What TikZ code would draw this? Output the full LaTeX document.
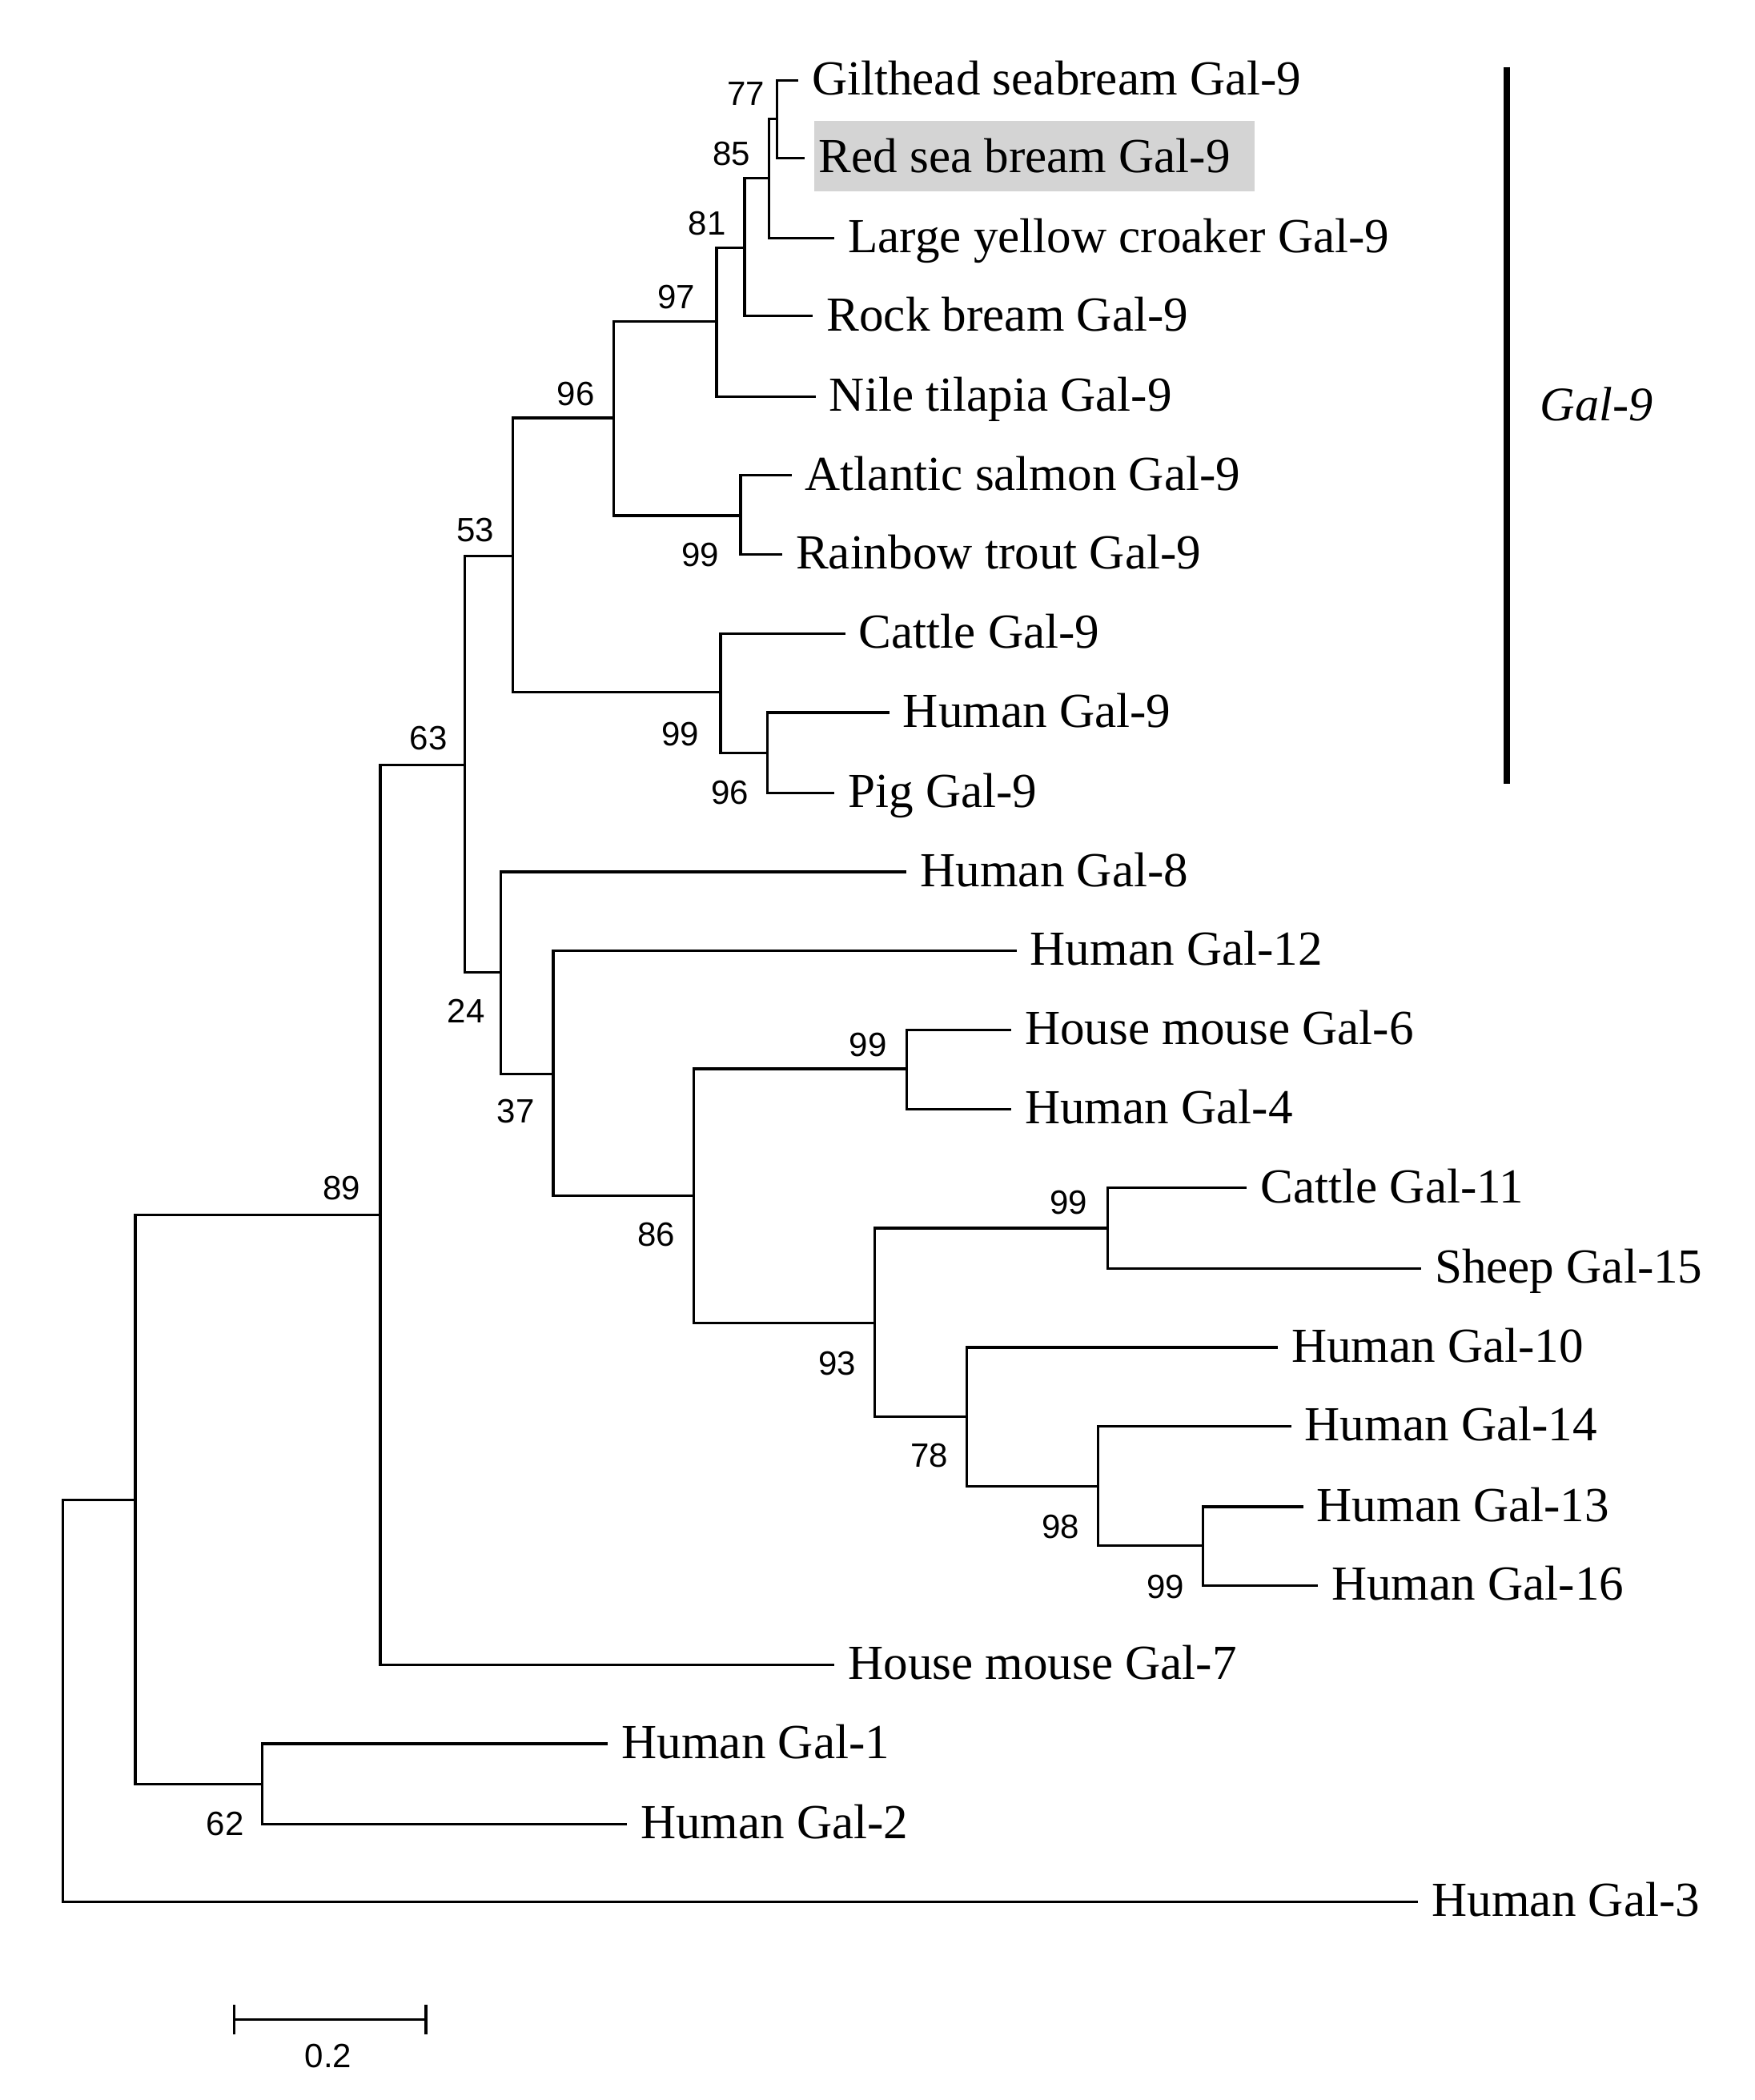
\documentclass[tikz,border=0pt]{standalone}
\usepackage{fontspec}
\setmainfont{Liberation Serif}
\newfontfamily\bsfont{Liberation Sans}
\begin{document}
\begin{tikzpicture}[x=0.02cm,y=-0.02cm,
  branch/.style={line width=1.1pt,line cap=rect},
  leaf/.style={anchor=west,inner xsep=6.2pt,inner ysep=0pt,text height=14pt,text depth=1.6pt,font=\fontsize{20.8}{24}\selectfont},
  boot/.style={inner sep=0pt,font=\bsfont\fontsize{14.3}{16}\selectfont},
  cladebar/.style={line width=3pt},
  hl/.style={fill=black!17,draw=none}]
\useasboundingbox (0,0) rectangle (1310,1568);
% highlight box
\fill[hl] (608,90) rectangle (937,143);
% leaves
\node[leaf] (l1) at (595,60) {Gilthead seabream Gal-9};
\node[leaf] (l2) at (600,118) {Red sea bream Gal-9};
\node[leaf] (l3) at (622,178) {Large yellow croaker Gal-9};
\node[leaf] (l4) at (606,236) {Rock bream Gal-9};
\node[leaf] (l5) at (608,296) {Nile tilapia Gal-9};
\node[leaf] (l6) at (590,355) {Atlantic salmon Gal-9};
\node[leaf] (l7) at (583,414) {Rainbow trout Gal-9};
\node[leaf] (l8) at (630,473) {Cattle Gal-9};
\node[leaf] (l9) at (663,532) {Human Gal-9};
\node[leaf] (l10) at (622,592) {Pig Gal-9};
\node[leaf] (l11) at (676,651) {Human Gal-8};
\node[leaf] (l12) at (758,710) {Human Gal-12};
\node[leaf] (l13) at (754,769) {House mouse Gal-6};
\node[leaf] (l14) at (754,828) {Human Gal-4};
\node[leaf] (l15) at (930,887) {Cattle Gal-11};
\node[leaf] (l16) at (1060,947) {Sheep Gal-15};
\node[leaf] (l17) at (953,1006) {Human Gal-10};
\node[leaf] (l18) at (963,1065) {Human Gal-14};
\node[leaf] (l19) at (972,1125) {Human Gal-13};
\node[leaf] (l20) at (983,1184) {Human Gal-16};
\node[leaf] (l21) at (622,1243) {House mouse Gal-7};
\node[leaf] (l22) at (453,1302) {Human Gal-1};
\node[leaf] (l23) at (467,1362) {Human Gal-2};
\node[leaf] (l24) at (1058,1420) {Human Gal-3};
% internal nodes
\coordinate (n77) at (580,89);
\coordinate (n85) at (574,133);
\coordinate (n81) at (556,185);
\coordinate (n97) at (535,240);
\coordinate (n99a) at (553,385);
\coordinate (n96a) at (458,312);
\coordinate (n96b) at (573,562);
\coordinate (n99b) at (538,517);
\coordinate (n53) at (383,415);
\coordinate (n99c) at (677,798);
\coordinate (n99d) at (827,917);
\coordinate (n99e) at (898,1154);
\coordinate (n98) at (820,1110);
\coordinate (n78) at (722,1058);
\coordinate (n93) at (653,988);
\coordinate (n86) at (518,893);
\coordinate (n37) at (413,802);
\coordinate (n24) at (374,726);
\coordinate (n63) at (347,571);
\coordinate (n89) at (284,907);
\coordinate (n62) at (196,1332);
\coordinate (n0) at (101,1120);
\coordinate (root) at (47,1270);
% branches
\draw[branch] (n77) |- (l1.west) (n77) |- (l2.west);
\draw[branch] (n85) |- (n77) (n85) |- (l3.west);
\draw[branch] (n81) |- (n85) (n81) |- (l4.west);
\draw[branch] (n97) |- (n81) (n97) |- (l5.west);
\draw[branch] (n99a) |- (l6.west) (n99a) |- (l7.west);
\draw[branch] (n96a) |- (n97) (n96a) |- (n99a);
\draw[branch] (n96b) |- (l9.west) (n96b) |- (l10.west);
\draw[branch] (n99b) |- (l8.west) (n99b) |- (n96b);
\draw[branch] (n53) |- (n96a) (n53) |- (n99b);
\draw[branch] (n99c) |- (l13.west) (n99c) |- (l14.west);
\draw[branch] (n99d) |- (l15.west) (n99d) |- (l16.west);
\draw[branch] (n99e) |- (l19.west) (n99e) |- (l20.west);
\draw[branch] (n98) |- (l18.west) (n98) |- (n99e);
\draw[branch] (n78) |- (l17.west) (n78) |- (n98);
\draw[branch] (n93) |- (n99d) (n93) |- (n78);
\draw[branch] (n86) |- (n99c) (n86) |- (n93);
\draw[branch] (n37) |- (l12.west) (n37) |- (n86);
\draw[branch] (n24) |- (l11.west) (n24) |- (n37);
\draw[branch] (n63) |- (n53) (n63) |- (n24);
\draw[branch] (n89) |- (n63) (n89) |- (l21.west);
\draw[branch] (n62) |- (l22.west) (n62) |- (l23.west);
\draw[branch] (n0) |- (n89) (n0) |- (n62);
\draw[branch] (root) |- (n0) (root) |- (l24.west);
% bootstrap values
\node[boot] (b77) at (557,70) {77};
\node[boot] (b85) at (546,115) {85};
\node[boot] (b81) at (528,167) {81};
\node[boot] (b97) at (505,222) {97};
\node[boot] (b96a) at (430,294) {96};
\node[boot] (b99a) at (523,414) {99};
\node[boot] (b53) at (355,396) {53};
\node[boot] (b99b) at (508,548) {99};
\node[boot] (b96b) at (545,592) {96};
\node[boot] (b63) at (320,551) {63};
\node[boot] (b24) at (348,755) {24};
\node[boot] (b37) at (385,830) {37};
\node[boot] (b99c) at (648,780) {99};
\node[boot] (b86) at (490,922) {86};
\node[boot] (b99d) at (798,898) {99};
\node[boot] (b93) at (625,1018) {93};
\node[boot] (b78) at (694,1087) {78};
\node[boot] (b98) at (792,1140) {98};
\node[boot] (b99e) at (870,1185) {99};
\node[boot] (b89) at (255,887) {89};
\node[boot] (b62) at (168,1362) {62};
% clade bar
\coordinate (cbt) at (1125,50);
\coordinate (cbb) at (1125,585);
\draw[cladebar] (cbt) -- (cbb);
\node[font=\itshape\fontsize{20.5}{24}\selectfont,inner sep=0pt] (clade) at (1192,302) {Gal-9};
% scale bar
\coordinate (sb1) at (175,1508);
\coordinate (sb2) at (318,1508);
\draw[branch,line cap=butt] (sb1) -- (sb2);
\draw[branch,line cap=butt] ([yshift=-11*0.02cm]sb1) -- ([yshift=11*0.02cm]sb1);
\draw[branch,line cap=butt] ([yshift=-11*0.02cm]sb2) -- ([yshift=11*0.02cm]sb2);
\node[boot] (sbl) at (245,1535) {0.2};
\end{tikzpicture}
\end{document}
